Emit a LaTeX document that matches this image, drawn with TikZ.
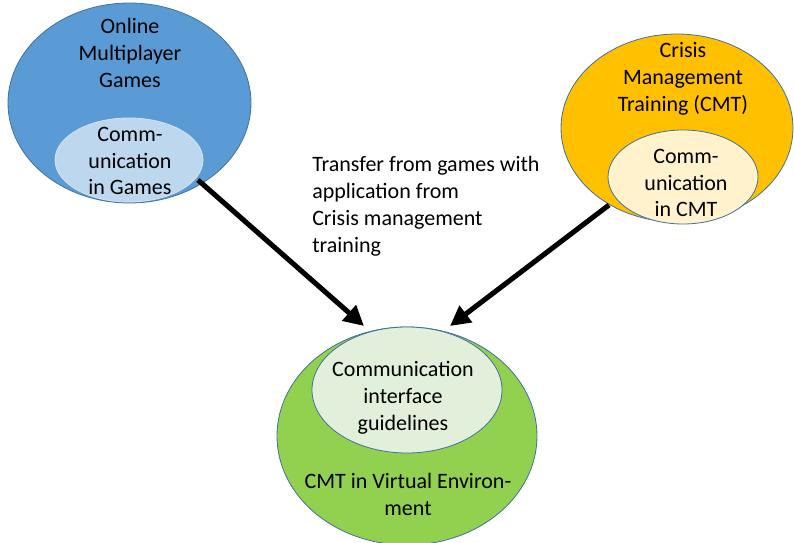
\documentclass[tikz,border=0pt]{standalone}
\usepackage{fontspec}
\setmainfont{Carlito}
\usetikzlibrary{arrows.meta}
\definecolor{bluefill}{HTML}{5B9BD5}
\definecolor{bluein}{HTML}{BDD7EE}
\definecolor{orangefill}{HTML}{FFC000}
\definecolor{orangein}{HTML}{FFF2CC}
\definecolor{greenfill}{HTML}{92D050}
\definecolor{greenin}{HTML}{E2EFDA}
\definecolor{rim}{HTML}{41719C}
\begin{document}
\begin{tikzpicture}[x=0.75pt,y=-0.75pt,
  blob/.style={draw=rim,line width=0.6pt},
  lbl/.style={font=\fontsize{16.5}{20.2}\selectfont,align=center,text=black,inner sep=0pt},
  flow/.style={line width=3.8pt,draw=black,-{Triangle[length=15pt,width=15pt]}}]
\useasboundingbox (0,0) rectangle (794,543);
\clip (0,0) rectangle (794,543);
% outer circles
\draw[blob,fill=bluefill] (129.5,103) ellipse [x radius=121.5,y radius=100];
\draw[blob,fill=orangefill] (677,128) ellipse [x radius=116,y radius=94];
\draw[blob,fill=greenfill] (407,436) ellipse [x radius=130,y radius=109];
% inner circles
\draw[blob,draw=white!80!rim,fill=bluein] (129,160) ellipse [x radius=74,y radius=42];
\draw[blob,fill=orangein] (683,177) ellipse [x radius=75,y radius=47];
\draw[blob,fill=greenin] (407,390) ellipse [x radius=95,y radius=63];
% labels
\node[lbl] (games) at (130,53) {Online\\Multiplayer\\Games};
\node[lbl] (gamescom) at (130,161) {Comm-\\unication\\in Games};
\node[lbl] (cmt) at (683,79) {Crisis\\Management\\Training (CMT)};
\node[lbl] (cmtcom) at (686,183) {Comm-\\unication\\in CMT};
\node[lbl] (guide) at (403,398) {Communication\\interface\\guidelines};
\node[lbl] (cmtve) at (408,494) {CMT in Virtual Environ-\\ment};
\node[lbl,align=left,anchor=base west] (transfer) at (312,252)
  {Transfer from games with\\application from\\Crisis management\\training};
% transfer arrows
\coordinate (fromgames) at (198,180);
\coordinate (fromcmt) at (609,205);
\coordinate (intoleft) at (364,326);
\coordinate (intoright) at (450,326);
\draw[flow] (fromgames) -- (intoleft);
\draw[flow] (fromcmt) -- (intoright);
\end{tikzpicture}
\end{document}
